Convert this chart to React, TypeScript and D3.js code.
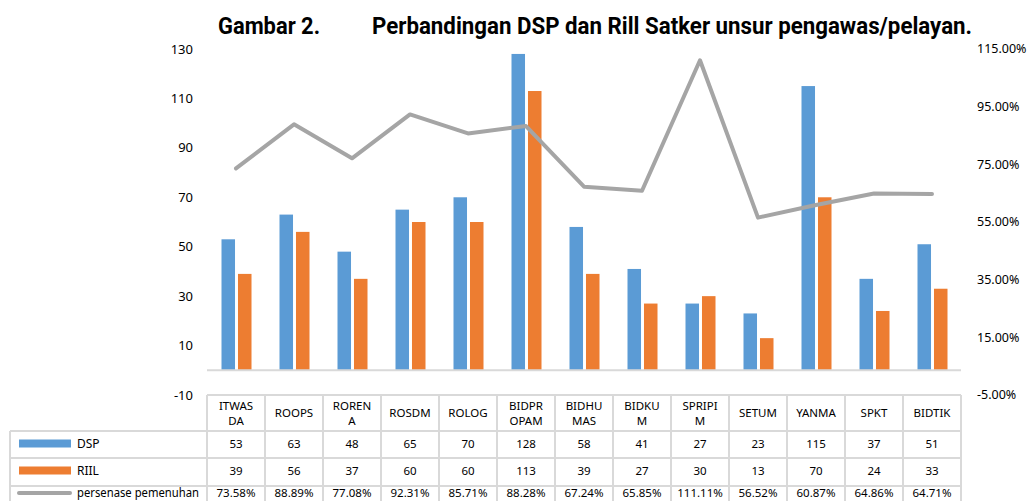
import React from "react";
import * as d3 from "d3";

const categories = ["ITWASDA", "ROOPS", "ROREN A", "ROSDM", "ROLOG", "BIDPROPAM", "BIDHUMAS", "BIDKUM", "SPRIPIM", "SETUM", "YANMA", "SPKT", "BIDTIK"];
const headerLines = [["ITWAS", "DA"], ["ROOPS"], ["ROREN", "A"], ["ROSDM"], ["ROLOG"], ["BIDPR", "OPAM"], ["BIDHU", "MAS"], ["BIDKU", "M"], ["SPRIPI", "M"], ["SETUM"], ["YANMA"], ["SPKT"], ["BIDTIK"]];
const dsp = [53, 63, 48, 65, 70, 128, 58, 41, 27, 23, 115, 37, 51];
const riil = [39, 56, 37, 60, 60, 113, 39, 27, 30, 13, 70, 24, 33];
const persen = [0.7358, 0.8889, 0.7708, 0.9231, 0.8571, 0.8828, 0.6724, 0.6585, 1.1111, 0.5652, 0.6087, 0.6486, 0.6471];
const leftTicks = [-10, 10, 30, 50, 70, 90, 110, 130];
const rightTicks = [-0.05, 0.15, 0.35, 0.55, 0.75, 0.95, 1.15];
const seriesNames = ["DSP", "RIIL"];

const BLUE = "#5B9BD5";
const ORANGE = "#ED7D31";
const GRAY = "#A5A5A5";
const GRID = "#D9D9D9";
const FONT = "'Noto Sans', sans-serif";

export default function App() {
  const W = 1030, H = 501;
  const x = d3.scaleBand<string>().domain(categories).range([207, 961]).paddingInner(0).paddingOuter(0);
  const xs = d3.scaleBand<string>().domain(seriesNames).range([14.5, 44.5]).paddingInner(0.18).paddingOuter(0);
  const yL = d3.scaleLinear().domain([-10, 130]).range([395, 49]);
  const yR = d3.scaleLinear().domain([-0.05, 1.15]).range([395, 49]);
  const bw = x.bandwidth();
  const cx = (c: string) => (x(c) as number) + bw / 2;

  const line = d3.line<number>()
    .x((_, i) => cx(categories[i]))
    .y((d) => yR(d));

  const rowTops = [395, 431, 458, 486, 503];
  const rowMids = [443.5, 470.5, 493];
  const tableLeft = 10;

  const fmtPct = (v: number) => (v * 100).toFixed(2) + "%";
  const rows = [
    { name: "DSP", vals: dsp.map(String), color: BLUE, kind: "rect" },
    { name: "RIIL", vals: riil.map(String), color: ORANGE, kind: "rect" },
    { name: "persenase pemenuhan", vals: persen.map(fmtPct), color: GRAY, kind: "line" },
  ];

  return (
    <svg width={W} height={H} style={{ position: "absolute", left: 0, top: 0, background: "#fff" }}>
      {/* title */}
      <text x={218} y={34} fontFamily="Roboto, sans-serif" fontWeight={700} fontSize={24} fill="#000" textLength={102} lengthAdjust="spacingAndGlyphs">Gambar 2.</text>
      <text x={372} y={34} fontFamily="Roboto, sans-serif" fontWeight={700} fontSize={24} fill="#000" textLength={600} lengthAdjust="spacingAndGlyphs">Perbandingan DSP dan Rill Satker unsur pengawas/pelayan.</text>

      {/* left ticks */}
      {leftTicks.map((t) => (
        <text key={"l" + t} x={193} y={yL(t)} dy="0.35em" textAnchor="end" fontFamily={FONT} fontSize={13} fill="#000">{t}</text>
      ))}
      {/* right ticks */}
      {rightTicks.map((t) => (
        <text key={"r" + t} x={977} y={yR(t)} dy="0.35em" textAnchor="start" fontFamily={FONT} fontSize={12.5} fill="#000">{(t * 100).toFixed(2) + "%"}</text>
      ))}

      {/* bars */}
      {categories.map((c, i) => (
        <g key={c} transform={`translate(${x(c)},0)`}>
          <rect x={xs("DSP")} y={yL(dsp[i])} width={xs.bandwidth()} height={yL(0) - yL(dsp[i])} fill={BLUE} />
          <rect x={xs("RIIL")} y={yL(riil[i])} width={xs.bandwidth()} height={yL(0) - yL(riil[i])} fill={ORANGE} />
        </g>
      ))}

      {/* zero baseline */}
      <line x1={207} x2={961} y1={yL(0)} y2={yL(0)} stroke={GRID} strokeWidth={2} />

      {/* line series */}
      <path d={line(persen) as string} fill="none" stroke={GRAY} strokeWidth={4} strokeLinejoin="round" strokeLinecap="round" />

      {/* table */}
      <g>
        <line x1={207} x2={961} y1={rowTops[0]} y2={rowTops[0]} stroke={GRID} strokeWidth={2} />
        {rowTops.slice(1).map((yy) => (
          <line key={"h" + yy} x1={tableLeft} x2={961} y1={yy} y2={yy} stroke={GRID} strokeWidth={2} />
        ))}
        <line x1={tableLeft} x2={tableLeft} y1={rowTops[1]} y2={rowTops[4]} stroke={GRID} strokeWidth={2} />
        {categories.map((c) => (
          <line key={"v" + c} x1={x(c)} x2={x(c)} y1={rowTops[0]} y2={rowTops[4]} stroke={GRID} strokeWidth={2} />
        ))}
        <line x1={961} x2={961} y1={rowTops[0]} y2={rowTops[4]} stroke={GRID} strokeWidth={2} />

        {/* header */}
        {categories.map((c, i) => {
          const lines = headerLines[i];
          return (
            <text key={"hd" + c} textAnchor="middle" fontFamily={FONT} fontSize={11.5} fill="#000">
              {lines.map((ln, k) => (
                <tspan key={k} x={cx(c)} y={lines.length === 1 ? 413 : (k === 0 ? 405.5 : 420.5)} dy="0.35em">{ln}</tspan>
              ))}
            </text>
          );
        })}

        {/* rows */}
        {rows.map((r, ri) => {
          const mid = rowMids[ri];
          return (
            <g key={r.name}>
              {r.kind === "rect" ? (
                <rect x={19} y={mid - 4} width={52} height={8} fill={r.color} />
              ) : (
                <line x1={19} x2={70} y1={mid} y2={mid} stroke={r.color} strokeWidth={4} strokeLinecap="round" />
              )}
              <text x={77} y={mid} dy="0.35em" fontFamily={FONT} fontSize={12} fill="#000"
                {...(r.kind === "line" ? { textLength: 122, lengthAdjust: "spacingAndGlyphs" } : {})}>{r.name}</text>
              {categories.map((c, i) => (
                <text key={c} x={cx(c)} y={mid} dy="0.35em" textAnchor="middle" fontFamily={FONT} fontSize={11.5} fill="#000">{r.vals[i]}</text>
              ))}
            </g>
          );
        })}
      </g>
    </svg>
  );
}
